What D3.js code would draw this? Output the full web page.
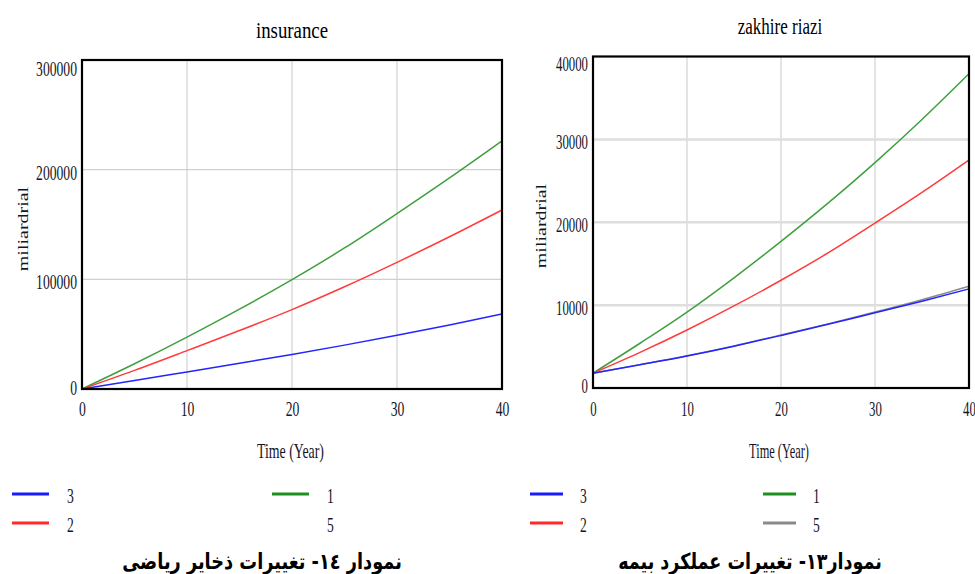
<!DOCTYPE html>
<html>
<head>
<meta charset="utf-8">
<script src="https://cdn.jsdelivr.net/npm/d3@7/dist/d3.min.js"></script>
<style>
  html, body { margin: 0; padding: 0; background: #fff; }
  svg { display: block; }
  text { font-family: "Liberation Serif", "Times New Roman", serif; fill: #15151f; }
</style>
</head>
<body>
<svg id="chart" width="975" height="574"></svg>
<script>
// ---------- DATA ----------
const years = [0, 5, 10, 15, 20, 25, 30, 35, 40];
const xTicks = [0, 10, 20, 30, 40];

// left chart: "insurance"
const insTitle = "insurance";
const insYTicks = [0, 100000, 200000, 300000];
const ins1 = [0, 23000, 47300, 72800, 99700, 128600, 160000, 192500, 226300];
const ins2 = [0, 17000, 35000, 53300, 72400, 93200, 115500, 138800, 163200];
const ins3 = [0, 7700, 15600, 23500, 31400, 40000, 49000, 58400, 68500];

// right chart: "zakhire riazi"
const zakTitle = "zakhire riazi";
const zakYTicks = [0, 10000, 20000, 30000, 40000];
const zak1 = [1790, 5400, 9160, 13300, 17690, 22300, 27190, 32400, 37920];
const zak2 = [1790, 4300, 7000, 9900, 13000, 16300, 19900, 23600, 27510];
const zak3 = [1790, 2810, 3870, 5050, 6340, 7680, 9080, 10470, 11960];
const zak5 = [1790, 2820, 3890, 5080, 6390, 7740, 9160, 10660, 12280];

const legendNames = ["3", "2", "1", "5"];
const xLabel = "Time (Year)";
const yLabel = "miliardrial";
const captionLeft = "نمودار ١٤- تغییرات ذخایر ریاضی";
const captionRight = "نمودار١٣- تغییرات عملکرد بیمه";

// ---------- STYLE ----------
const colors = { "1": "#1f8f1f", "2": "#ff2a2a", "3": "#1a1aff", "5": "#8a8a8a" };
const lineColors = { "1": "#3f9f3f", "2": "#ff3b3b", "3": "#2424ff", "5": "#8c8c8c" };

const svg = d3.select("#chart");

function squeeze(sel, k) {
  sel.each(function () {
    const t = d3.select(this);
    const x = +t.attr("x") || 0, y = +t.attr("y") || 0;
    t.attr("transform", `translate(${x},${y}) scale(${k},1)`).attr("x", 0).attr("y", 0);
  });
}

function panel(cfg) {
  const g = svg.append("g");
  const x = d3.scaleLinear().domain([0, 40]).range([cfg.x0, cfg.x1]);
  const y = d3.scaleLinear().domain([0, cfg.yMax]).range([cfg.yBot, cfg.yTop]);

  // grid
  g.append("g").selectAll("line").data(xTicks.slice(1, -1)).join("line")
    .attr("x1", d => x(d)).attr("x2", d => x(d))
    .attr("y1", cfg.yTop).attr("y2", cfg.yBot)
    .attr("stroke", "#d2d2d2").attr("stroke-width", 1.2);
  g.append("g").selectAll("line").data(cfg.yTicks.slice(1, -1)).join("line")
    .attr("x1", cfg.x0).attr("x2", cfg.x1)
    .attr("y1", d => y(d)).attr("y2", d => y(d))
    .attr("stroke", cfg.hGridColor).attr("stroke-width", cfg.hGridWidth);

  // series
  const line = d3.line().x((d, i) => x(years[i])).y(d => y(d)).curve(d3.curveMonotoneX);
  cfg.series.forEach(s => {
    g.append("path").datum(s.values)
      .attr("fill", "none").attr("stroke", lineColors[s.name])
      .attr("stroke-width", 1.5).attr("d", line);
  });

  // frame
  g.append("rect").attr("x", cfg.x0).attr("y", cfg.yTop)
    .attr("width", cfg.x1 - cfg.x0).attr("height", cfg.yBot - cfg.yTop)
    .attr("fill", "none").attr("stroke", "#000").attr("stroke-width", 2.2);

  // y axis labels
  const ya = g.append("g").attr("transform", `translate(${cfg.x0},0)`)
    .call(d3.axisLeft(y).tickValues(cfg.yTicks).tickSize(0).tickPadding(5).tickFormat(d3.format("d")));
  ya.select(".domain").remove();
  ya.selectAll("text")
    .style("font-size", cfg.tickFont + "px")
    .attr("dy", (d, i, n) => i === 0 ? cfg.dyBottom : (i === n.length - 1 ? cfg.dyTop : cfg.dyMid));
  squeeze(ya.selectAll("text"), cfg.tickK);

  // x axis labels
  const xa = g.append("g").attr("transform", `translate(0,${cfg.yBot})`)
    .call(d3.axisBottom(x).tickValues(xTicks).tickSize(0).tickPadding(cfg.xPad).tickFormat(d3.format("d")));
  xa.select(".domain").remove();
  xa.selectAll("text").style("font-size", cfg.tickFont + "px");
  squeeze(xa.selectAll("text"), cfg.tickK);

  // title
  g.append("text").attr("transform", `translate(${cfg.titleX},${cfg.titleY}) scale(${cfg.titleK},1)`)
    .attr("text-anchor", "middle").style("font-size", "23px").style("fill", "#000").text(cfg.title);

  // x label
  g.append("text").attr("transform", `translate(${cfg.xlabX},458) scale(${cfg.xlabK},1)`)
    .attr("text-anchor", "middle").style("font-size", cfg.tickFont + "px").text(xLabel);

  // y label
  g.append("text").attr("transform", `translate(${cfg.ylabX},${cfg.ylabY}) scale(0.7,1) rotate(-90)`)
    .attr("text-anchor", "middle").style("font-size", "20px").text(yLabel);

  // legend
  const leg = [
    { name: "3", lx: cfg.legL, row: 0 },
    { name: "2", lx: cfg.legL, row: 1 },
    { name: "1", lx: cfg.legR, row: 0 },
    { name: "5", lx: cfg.legR, row: 1 }
  ];
  leg.forEach(it => {
    const yy = 494 + it.row * 29;
    if (cfg.legendLines.includes(it.name)) {
      g.append("line").attr("x1", it.lx).attr("x2", it.lx + cfg.legLen)
        .attr("y1", yy).attr("y2", yy)
        .attr("stroke", colors[it.name]).attr("stroke-width", 3);
    }
    g.append("text")
      .attr("transform", `translate(${it.lx + cfg.legTextDx},${yy + 8.5}) scale(0.68,1)`)
      .style("font-size", "20px").text(it.name);
  });

  // caption
  const cap = g.append("text").attr("direction", "rtl").attr("text-anchor", "middle")
    .style("font-family", "'DejaVu Sans', 'Noto Sans', sans-serif")
    .style("font-weight", "bold").style("font-size", "22px").style("fill", "#000")
    .text(cfg.caption);
  const len = cap.node().getComputedTextLength();
  const k = cfg.capW / len;
  cap.attr("transform", `translate(${cfg.capX},569) scale(${k},1)`);
}

panel({
  x0: 82, x1: 502, yTop: 60, yBot: 389, yMax: 300000, yTicks: insYTicks,
  hGridColor: "#d0d0d0", hGridWidth: 1.3,
  series: [{ name: "1", values: ins1 }, { name: "2", values: ins2 }, { name: "3", values: ins3 }],
  tickFont: 21, tickK: 0.65, dyBottom: "0.25em", dyMid: "0.45em", dyTop: "0.72em", xPad: 12,
  title: insTitle, titleX: 292, titleY: 38, titleK: 0.82,
  xlabX: 290.5, xlabK: 0.66, ylabX: 28, ylabY: 229,
  legL: 12, legR: 272, legLen: 37, legTextDx: 55, legendLines: ["3", "2", "1"],
  caption: captionLeft, capX: 262, capW: 280
});

panel({
  x0: 593, x1: 969, yTop: 56.5, yBot: 388, yMax: 40000, yTicks: zakYTicks,
  hGridColor: "#dedede", hGridWidth: 2.5,
  series: [{ name: "1", values: zak1 }, { name: "2", values: zak2 }, { name: "5", values: zak5 }, { name: "3", values: zak3 }],
  tickFont: 20, tickK: 0.64, dyBottom: "0.2em", dyMid: "0.48em", dyTop: "0.72em", xPad: 14,
  title: zakTitle, titleX: 780, titleY: 34, titleK: 0.74,
  xlabX: 779, xlabK: 0.62, ylabX: 546, ylabY: 226,
  legL: 530, legR: 763, legLen: 33, legTextDx: 50, legendLines: ["3", "2", "1", "5"],
  caption: captionRight, capX: 750, capW: 264
});
</script>
</body>
</html>
